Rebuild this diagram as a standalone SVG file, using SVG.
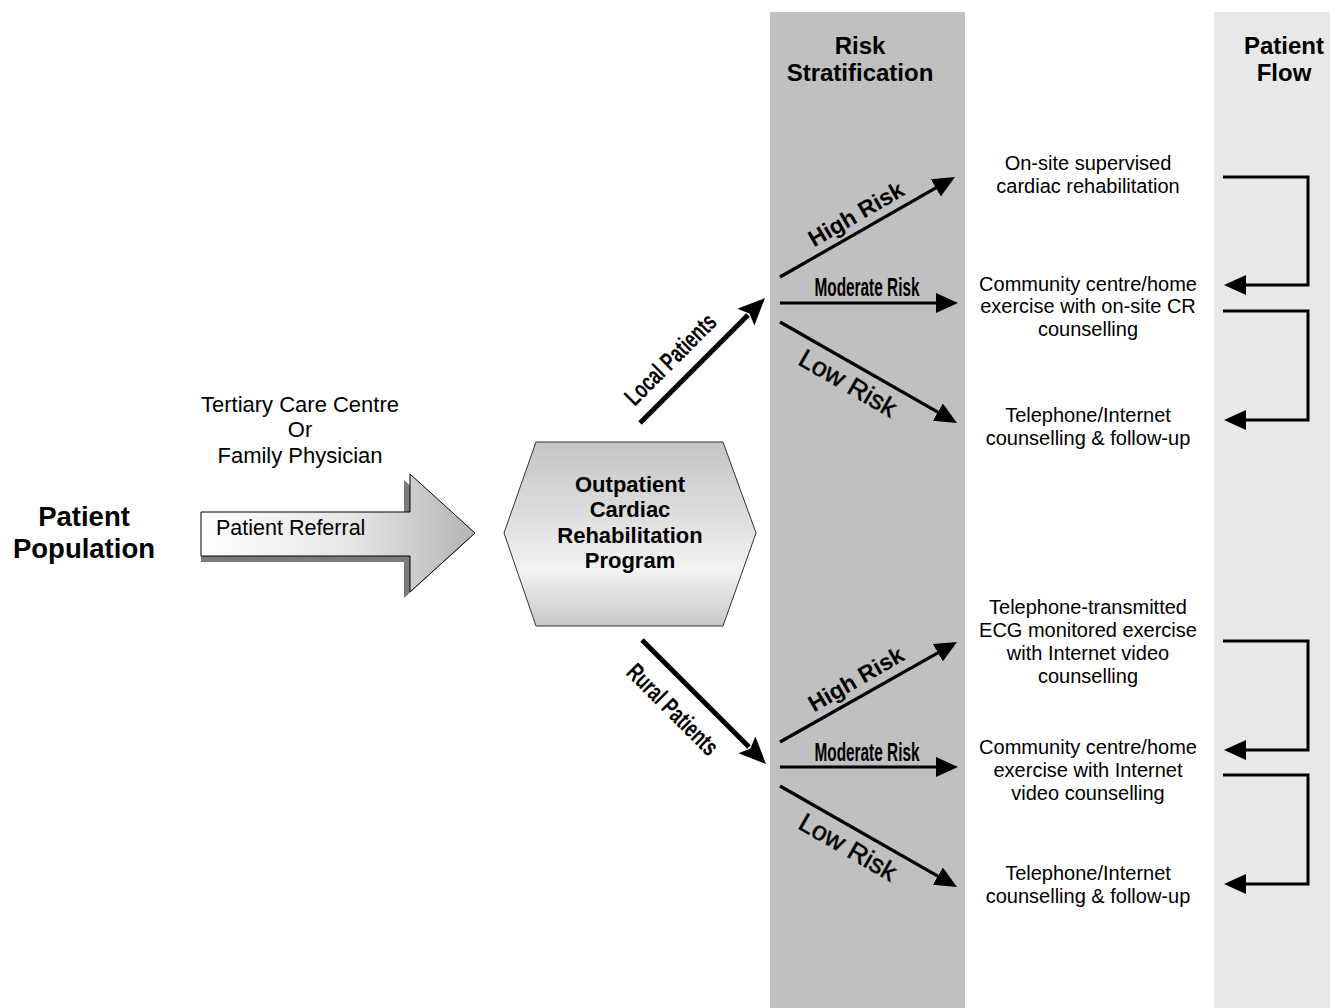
<svg xmlns="http://www.w3.org/2000/svg" width="1330" height="1008" viewBox="0 0 1330 1008">
<style>
text{font-family:"Liberation Sans",Arial,sans-serif;fill:#000}
.hd{font-size:24px;font-weight:bold;text-anchor:middle}
.pp{font-size:27.5px;font-weight:bold;text-anchor:middle}
.tc{font-size:22px;text-anchor:middle}
.ref{font-size:21.5px}
.hx{font-size:22px;font-weight:bold;text-anchor:middle}
.out{font-size:20px;text-anchor:middle}
.rk{font-size:23px;font-weight:bold;text-anchor:middle}
.lw{font-size:26px;text-anchor:middle;stroke:#000;stroke-width:0.5}
.md{font-size:26px;font-weight:bold;text-anchor:middle}
.pt{font-size:25px;font-weight:bold;text-anchor:middle}
.risk{stroke:#000;stroke-width:3.2;fill:none;marker-end:url(#ah)}
.pat{stroke:#000;stroke-width:5;fill:none;marker-end:url(#ahb)}
.flow{stroke:#000;stroke-width:3;fill:none;marker-end:url(#ah);stroke-linejoin:miter}
</style>
<defs>
<marker id="ah" markerUnits="userSpaceOnUse" markerWidth="24" markerHeight="22" refX="2" refY="10" orient="auto" viewBox="0 0 24 22">
<path d="M0,0 L22,10 L0,20 z" fill="#000"/>
</marker>
<marker id="ahb" markerUnits="userSpaceOnUse" markerWidth="30" markerHeight="26" refX="3" refY="12" orient="auto" viewBox="0 0 30 26">
<path d="M0,0 L27,12 L0,24 L5,12 z" fill="#000"/>
</marker>
<linearGradient id="refg" x1="0" y1="0" x2="1" y2="0">
<stop offset="0" stop-color="#ffffff"/>
<stop offset="0.55" stop-color="#e6e6e6"/>
<stop offset="1" stop-color="#b4b4b4"/>
</linearGradient>
<linearGradient id="hexg" x1="0" y1="0" x2="0" y2="1">
<stop offset="0" stop-color="#c4c4c4"/>
<stop offset="0.7" stop-color="#f2f2f2"/>
<stop offset="1" stop-color="#c8c8c8"/>
</linearGradient>
</defs>

<g id="bands">
<rect x="770" y="12" width="195" height="996" fill="#c0c0c0"/>
<rect x="1214" y="12" width="116" height="996" fill="#e8e8e8"/>
<text class="hd" x="860" y="54">Risk</text>
<text class="hd" x="860" y="81">Stratification</text>
<text class="hd" x="1284" y="54">Patient</text>
<text class="hd" x="1284" y="81">Flow</text>
</g>

<g id="patient-population">
<text class="pp" x="84" y="526">Patient</text>
<text class="pp" x="84" y="558">Population</text>
</g>

<g id="source">
<text class="tc" x="300" y="412">Tertiary Care Centre</text>
<text class="tc" x="300" y="437">Or</text>
<text class="tc" x="300" y="463">Family Physician</text>
</g>

<g id="patient-referral">
<polygon points="201,518 404,518 404,480 469,539 404,598 404,562 201,562" fill="#7a7a7a"/>
<polygon points="201,512 410,512 410,474 475,533 410,592 410,556 201,556" fill="url(#refg)" stroke="#000" stroke-width="1"/>
<text class="ref" x="216" y="535">Patient Referral</text>
</g>

<g id="program">
<polygon points="504,533 536,442 723,442 756,533 723,626 536,626" fill="url(#hexg)" stroke="#333" stroke-width="1"/>
<text class="hx" x="630" y="492">Outpatient</text>
<text class="hx" x="630" y="517">Cardiac</text>
<text class="hx" x="630" y="543">Rehabilitation</text>
<text class="hx" x="630" y="568">Program</text>
</g>

<g id="outcomes">
<g id="out-local-high"><text class="out" x="1088" y="170">On-site supervised</text><text class="out" x="1088" y="193">cardiac rehabilitation</text></g>
<g id="out-local-mod"><text class="out" x="1088" y="291">Community centre/home</text><text class="out" x="1088" y="313">exercise with on-site CR</text><text class="out" x="1088" y="336">counselling</text></g>
<g id="out-local-low"><text class="out" x="1088" y="422">Telephone/Internet</text><text class="out" x="1088" y="445">counselling &amp; follow-up</text></g>
<g id="out-rural-high"><text class="out" x="1088" y="614">Telephone-transmitted</text><text class="out" x="1088" y="637">ECG monitored exercise</text><text class="out" x="1088" y="660">with Internet video</text><text class="out" x="1088" y="683">counselling</text></g>
<g id="out-rural-mod"><text class="out" x="1088" y="754">Community centre/home</text><text class="out" x="1088" y="777">exercise with Internet</text><text class="out" x="1088" y="800">video counselling</text></g>
<g id="out-rural-low"><text class="out" x="1088" y="880">Telephone/Internet</text><text class="out" x="1088" y="903">counselling &amp; follow-up</text></g>
</g>

<g id="connectors">
<line class="pat" x1="640" y1="423" x2="748" y2="315"/>
<line class="pat" x1="642" y1="640" x2="749" y2="747"/>
<line class="risk" x1="780" y1="277" x2="937.6" y2="186.9"/>
<line class="risk" x1="780" y1="303" x2="938" y2="303"/>
<line class="risk" x1="780" y1="322" x2="939.6" y2="413.1"/>
<line class="risk" x1="780" y1="742" x2="939.6" y2="651.8"/>
<line class="risk" x1="780" y1="767" x2="938" y2="767"/>
<line class="risk" x1="780" y1="786" x2="939.6" y2="877.1"/>
<polyline class="flow" points="1223,177 1308,177 1308,285 1244,285"/>
<polyline class="flow" points="1223,311 1308,311 1308,420 1244,420"/>
<polyline class="flow" points="1223,641 1308,641 1308,750 1244,750"/>
<polyline class="flow" points="1223,775 1308,775 1308,884 1244,884"/>
<text class="pt" transform="translate(670,359) rotate(-45)" y="9" textLength="118" lengthAdjust="spacingAndGlyphs">Local Patients</text>
<text class="pt" transform="translate(673,709) rotate(45)" y="9" textLength="118" lengthAdjust="spacingAndGlyphs">Rural Patients</text>
<text class="rk" transform="translate(856,214) rotate(-30)" y="8">High Risk</text>
<text class="md" x="867" y="296" textLength="105" lengthAdjust="spacingAndGlyphs">Moderate Risk</text>
<text class="lw" transform="translate(848,383) rotate(30)" y="9" textLength="108" lengthAdjust="spacingAndGlyphs">Low Risk</text>
<text class="rk" transform="translate(856,679) rotate(-30)" y="8">High Risk</text>
<text class="md" x="867" y="761" textLength="105" lengthAdjust="spacingAndGlyphs">Moderate Risk</text>
<text class="lw" transform="translate(848,847) rotate(30)" y="9" textLength="108" lengthAdjust="spacingAndGlyphs">Low Risk</text>
</g>
</svg>
